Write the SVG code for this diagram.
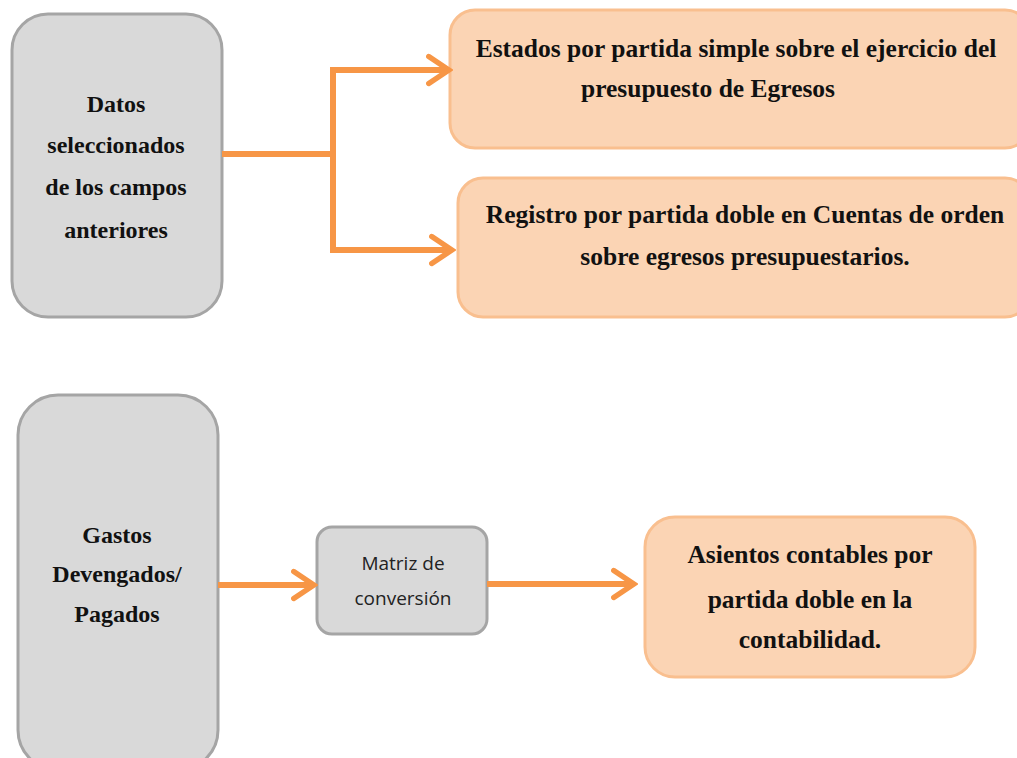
<svg xmlns="http://www.w3.org/2000/svg" width="1017" height="758" viewBox="0 0 1017 758">
<style>
.gray{fill:#d9d9d9;stroke:#a5a5a5;stroke-width:3}
.peach{fill:#fbd4b4;stroke:#f9bf8f;stroke-width:3}
.t{font-family:"Liberation Serif",serif;font-weight:bold;font-size:24px;fill:#111;text-anchor:middle}
.s{font-family:"Liberation Serif",serif;font-weight:bold;font-size:25.5px;fill:#111;text-anchor:middle}
.m{font-family:"Open Sans","Liberation Sans",sans-serif;font-size:19px;fill:#222;text-anchor:middle}
.c{fill:none;stroke:#f79646;stroke-width:6;stroke-linejoin:miter}
</style>
<defs>
<marker id="ah" viewBox="0 0 10 12" refX="8.5" refY="6" markerWidth="4.5" markerHeight="6" markerUnits="strokeWidth" orient="auto">
<path d="M1,1 L8.5,6 L1,11" fill="none" stroke="#f79646" stroke-width="2" stroke-linecap="round"/>
</marker>
</defs>
<g id="n1"><rect class="gray" x="12" y="14" width="210" height="303" rx="36"/>
<text class="t" x="116" y="112">Datos</text>
<text class="t" x="116" y="153">seleccionados</text>
<text class="t" x="116" y="195">de los campos</text>
<text class="t" x="116" y="238">anteriores</text></g>
<g id="n2"><rect class="peach" x="450" y="10" width="580" height="138" rx="25"/>
<text class="s" x="736" y="57">Estados por partida simple sobre el ejercicio del</text>
<text class="s" x="708" y="97">presupuesto de Egresos</text></g>
<g id="n3"><rect class="peach" x="458" y="178" width="572" height="139" rx="25"/>
<text class="s" x="745" y="223">Registro por partida doble en Cuentas de orden</text>
<text class="s" x="745" y="265">sobre egresos presupuestarios.</text></g>
<g id="n4"><rect class="gray" x="18" y="395" width="200" height="375" rx="40"/>
<text class="t" x="117" y="543">Gastos</text>
<text class="t" x="117" y="582">Devengados/</text>
<text class="t" x="117" y="622">Pagados</text></g>
<g id="n5"><rect class="gray" x="317" y="527" width="170" height="107" rx="15"/>
<text class="m" x="403" y="570">Matriz de</text>
<text class="m" x="403" y="605">conversión</text></g>
<g id="n6"><rect class="peach" x="645" y="517" width="330" height="160" rx="30"/>
<text class="s" x="810" y="563">Asientos contables por</text>
<text class="s" x="810" y="608">partida doble en la</text>
<text class="s" x="810" y="648">contabilidad.</text></g>
<g id="connectors">
<path class="c" d="M222,154 H333"/>
<path class="c" d="M333,70 V250"/>
<path class="c" d="M330,70 H449" marker-end="url(#ah)"/>
<path class="c" d="M330,250 H452" marker-end="url(#ah)"/>
<path class="c" d="M218,585 H314" marker-end="url(#ah)"/>
<path class="c" d="M487,584 H634" marker-end="url(#ah)"/>
</g>
</svg>
